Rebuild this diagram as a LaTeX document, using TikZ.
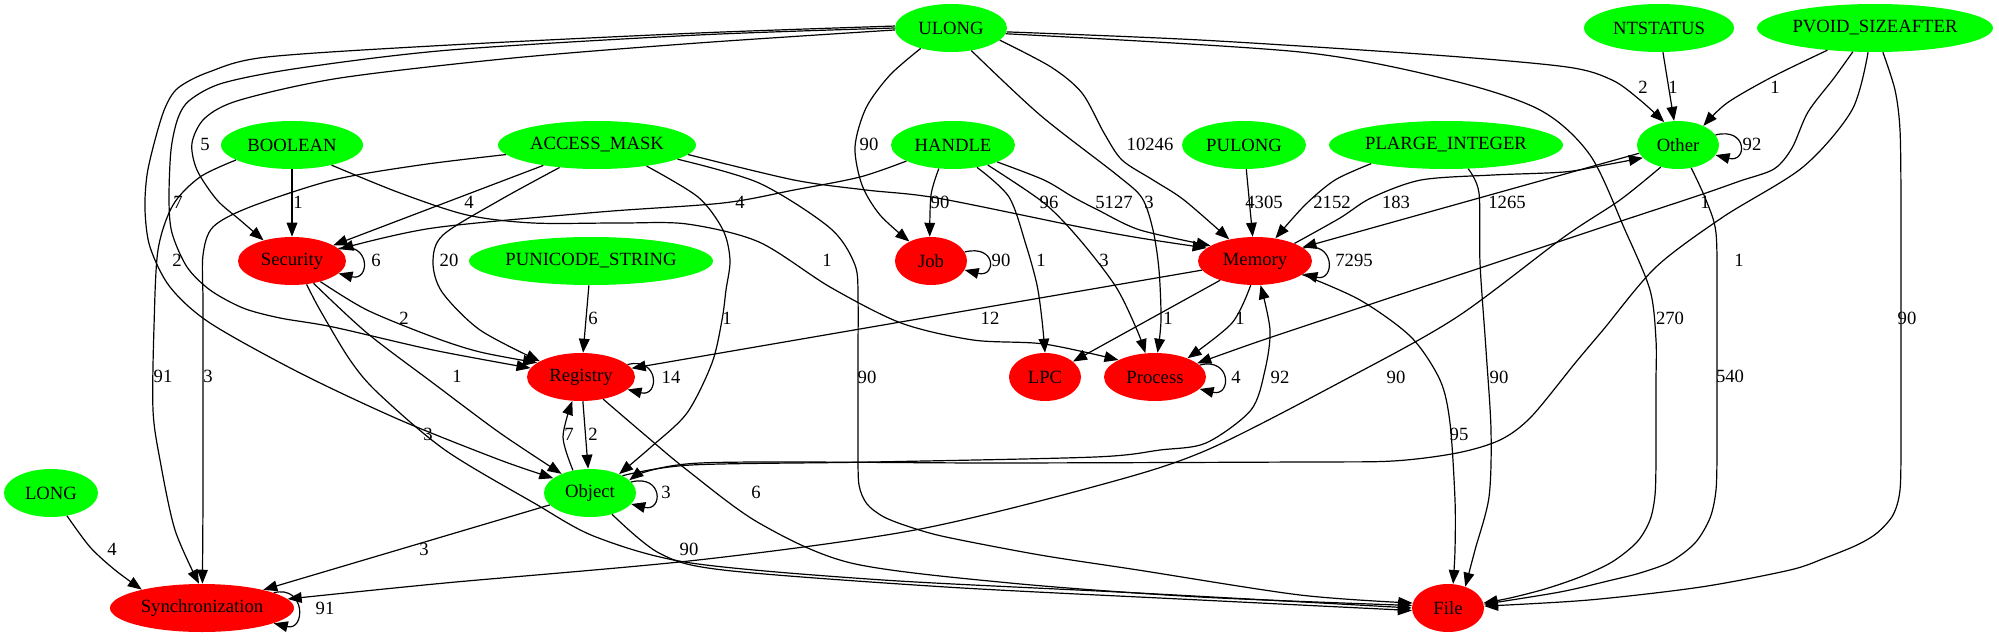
\documentclass[tikz,border=0pt]{standalone}
\usepackage{fontspec}
\setmainfont{Liberation Serif}
\usetikzlibrary{arrows.meta,shapes.geometric}
\definecolor{vgreen}{RGB}{0,255,0}
\definecolor{vred}{RGB}{255,0,0}
\begin{document}
\begin{tikzpicture}[x=0.75pt,y=-0.75pt,
  gnode/.style={ellipse, fill=vgreen, draw=none, inner xsep=-3pt, inner ysep=0pt, minimum height=36pt, font=\fontsize{14}{16}\selectfont},
  rnode/.style={gnode, fill=vred},
  conn/.style={draw=black, line width=0.9pt, -{Triangle[length=10.5pt,width=8pt]}},
  elab/.style={font=\fontsize{14}{16}\selectfont, inner sep=0pt},
  crv/.style={smooth, tension=0.5}]
\useasboundingbox (0,0) rectangle (1999,639);
% nodes
\node[gnode, minimum width=84pt] (ULONG) at (951,28) {ULONG};
\node[gnode, minimum width=112.5pt] (NTSTATUS) at (1659,28) {NTSTATUS};
\node[gnode, minimum width=177pt] (PVOID) at (1875,28) {PVOID\_SIZEAFTER};
\node[gnode, minimum width=106.5pt] (BOOLEAN) at (292,145) {BOOLEAN};
\node[gnode, minimum width=148.5pt] (ACCESS) at (597,145) {ACCESS\_MASK};
\node[gnode, minimum width=93pt] (HANDLE) at (953,145) {HANDLE};
\node[gnode, minimum width=93pt] (PULONG) at (1244,145) {PULONG};
\node[gnode, minimum width=175.5pt] (PLARGE) at (1446,145) {PLARGE\_INTEGER};
\node[gnode, minimum width=61.5pt] (Other) at (1678,145) {Other};
\node[rnode, minimum width=81pt] (Security) at (292,261) {Security};
\node[gnode, minimum width=183pt] (PUNICODE) at (591,261) {PUNICODE\_STRING};
\node[rnode, minimum width=54pt] (Job) at (931,261) {Job};
\node[rnode, minimum width=85.5pt] (Memory) at (1255,261) {Memory};
\node[rnode, minimum width=81pt] (Registry) at (581,377) {Registry};
\node[rnode, minimum width=54pt] (LPC) at (1045,377) {LPC};
\node[rnode, minimum width=76.5pt] (Process) at (1155,377) {Process};
\node[gnode, minimum width=70.5pt] (LONG) at (51,493) {LONG};
\node[gnode, minimum width=69pt] (Object) at (590,493) {Object};
\node[rnode, minimum width=138pt] (Sync) at (202,608) {Synchronization};
\node[rnode, minimum width=54pt] (File) at (1448,608) {File};
% ULONG edges
\draw[conn] plot[crv] coordinates {(ULONG.182) (698,43) (513,58) (340,78) (240,100) (205,118) (192,143) (197,170) (217,200) (240,220) (Security.144)};
\draw[conn] plot[crv] coordinates {(ULONG.180) (698,35) (450,50) (300,68) (223,83) (190,100) (178,118) (171,150) (169,200) (172,233) (187,267) (210,290) (243,308) (280,318) (333,327) (433,350) (Registry.170)};
\draw[conn] plot[crv] coordinates {(ULONG.178) (698,33) (450,45) (267,57) (209,72) (178,88) (165,108) (155,140) (147,175) (145,210) (150,247) (170,287) (210,323) (300,373) (400,420) (500,460) (Object.158)};
\draw[conn] plot[crv] coordinates {(ULONG.214) (890,75) (866,108) (855,147) (862,185) (880,215) (Job.138)};
\draw[conn] plot[crv] coordinates {(ULONG.-48) (1040,115) (1117,175) (1142,198) (1153,230) (1159,270) (1161,320) (Process.84)};
\draw[conn] plot[crv] coordinates {(ULONG.-14) (1051,67) (1082,93) (1104,133) (1122,160) (1153,180) (1184,200) (Memory.140)};
\draw[conn] plot[crv] coordinates {(ULONG.-4) (1200,40) (1434,55) (1567,67) (1612,80) (1640,100) (Other.121)};
\draw[conn] plot[crv] coordinates {(ULONG.-6) (1300,52) (1450,80) (1540,110) (1590,155) (1625,230) (1650,290) (1656,340) (1656,380) (1656,420) (1656,460) (1655,495) (1650,520) (1637,542) (1612,562) (1580,577) (1545,589) (1510,598) (File.8)};
% NTSTATUS, PVOID
\draw[conn] (NTSTATUS) -- (Other);
\draw[conn] plot[crv] coordinates {(PVOID.205) (1772,77) (1727,103) (Other.37)};
\draw[conn] plot[crv] coordinates {(PVOID.227) (1834,78) (1808,112) (1792,148) (1774,169) (1740,181) (1700,195) (1600,228) (1489,265) (1350,311) (1260,341) (Process.18)};
\draw[conn] plot[crv] coordinates {(PVOID.254) (1852,110) (1803,167) (1723,217) (1656,267) (1603,330) (1576,362) (1531,417) (1500,440) (1457,453) (1393,461) (1300,462) (1000,463) (700,463) (Object.18)};
\draw[conn] plot[crv] coordinates {(PVOID.-72) (1895,90) (1900,130) (1901,200) (1901,260) (1901,320) (1901,380) (1901,440) (1900,490) (1893,515) (1877,533) (1857,545) (1825,558) (1790,570) (1701,587) (1589,600) (File.3)};
% BOOLEAN
\draw[conn] (BOOLEAN) -- (Security);
\draw[conn] plot[crv] coordinates {(BOOLEAN.195) (200,177) (173,205) (158,250) (154,327) (153,410) (160,460) (175,530) (Sync.97)};
\draw[conn] plot[crv] coordinates {(BOOLEAN.-27) (400,193) (467,215) (533,223) (620,223) (687,224) (759,242) (830,287) (901,323) (973,340) (1044,344) (Process.155)};
% ACCESS_MASK
\draw[conn] (ACCESS) -- (Security);
\draw[conn] plot[crv] coordinates {(ACCESS.186) (420,165) (333,180) (250,207) (213,227) (203,255) (203,300) (203,350) (203,400) (203,450) (203,500) (Sync.89)};
\draw[conn] plot[crv] coordinates {(ACCESS.211) (500,200) (443,235) (433,262) (442,292) (480,330) (Registry.159)};
\draw[conn] plot[crv] coordinates {(ACCESS.-23) (698,197) (723,230) (730,260) (726,290) (722,320) (712,363) (687,413) (651,447) (Object.33)};
\draw[conn] plot[crv] coordinates {(ACCESS.-10) (759,183) (830,228) (855,265) (858,300) (858,350) (858,400) (858,450) (859,485) (867,504) (884,517) (910,527) (946,537) (1040,555) (1138,570) (1300,595) (File.172)};
\draw[conn] plot[crv] coordinates {(ACCESS.-6) (794,180) (866,190) (937,198) (1080,227) (1140,238) (Memory.165)};
% HANDLE
\draw[conn] plot[crv] coordinates {(HANDLE.199) (860,177) (794,190) (723,203) (600,212) (433,228) (Security.14)};
\draw[conn] plot[crv] coordinates {(HANDLE.-121) (931,195) (Job.93)};
\draw[conn] plot[crv] coordinates {(HANDLE.-43) (1009,197) (1026,245) (1037,285) (1042,320) (LPC.90)};
\draw[conn] plot[crv] coordinates {(HANDLE.-30) (1044,203) (1080,240) (1116,287) (1137,330) (Process.112)};
\draw[conn] plot[crv] coordinates {(HANDLE.-21) (1044,180) (1073,197) (1098,210) (1140,230) (Memory.161)};
% PULONG, PLARGE
\draw[conn] (PULONG) -- (Memory);
\draw[conn] plot[crv] coordinates {(PLARGE.194) (1335,180) (1305,205) (Memory.48)};
\draw[conn] plot[crv] coordinates {(PLARGE.-47) (1479,193) (1480,263) (1486,350) (1491,430) (1489,497) (1475,550) (File.51)};
% Other
\draw[conn] (Other.15) .. controls +(32,-8) and +(32,8) .. (Other.-15);
\draw[conn] (Other.192) -- (Memory.16);
\draw[conn] plot[crv] coordinates {(Memory.24) (1340,218) (1371,198) (1421,180) (1493,175) (1564,172) (1605,165) (Other.200)};
\draw[conn] plot[crv] coordinates {(Other.232) (1620,200) (1564,237) (1457,317) (1350,377) (1207,450) (1100,485) (915,530) (698,560) (445,583) (Sync.6)};
\draw[conn] plot[crv] coordinates {(Other.-60) (1706,200) (1716,233) (1717,300) (1717,350) (1717,400) (1717,450) (1716,490) (1710,518) (1695,543) (1670,562) (1640,573) (1612,580) (1560,592) (File.6)};
% Memory
\draw[conn] (Memory.15) .. controls +(32,-8) and +(32,8) .. (Memory.-15);
\draw[conn] (Memory) -- (Registry);
\draw[conn] (Memory) -- (LPC);
\draw[conn] plot[crv] coordinates {(Memory.-100) (1232,323) (Process.30)};
\draw[conn] plot[crv] coordinates {(Memory.-16) (1360,300) (1411,337) (1440,380) (1450,423) (1455,500) (1455,550) (File.78)};
% Security
\draw[conn] (Security.15) .. controls +(32,-8) and +(32,8) .. (Security.-15);
\draw[conn] plot[crv] coordinates {(Security.-36) (367,310) (433,337) (480,352) (Registry.162)};
\draw[conn] plot[crv] coordinates {(Security.-46) (367,333) (433,383) (500,433) (Object.146)};
\draw[conn] plot[crv] coordinates {(Security.-58) (320,310) (350,360) (378,393) (445,450) (534,503) (596,537) (691,563) (883,580) (1138,593) (File.180)};
% PUNICODE, Job
\draw[conn] (PUNICODE) -- (Registry);
\draw[conn] (Job.15) .. controls +(32,-8) and +(32,8) .. (Job.-15);
% Registry
\draw[conn] (Registry.15) .. controls +(32,-8) and +(32,8) .. (Registry.-15);
\draw[conn] (Registry) -- (Object);
\draw[conn] plot[crv] coordinates {(Registry.-45) (645,435) (687,470) (759,523) (851,563) (1010,583) (1200,597) (File.176)};
% Process
\draw[conn] (Process.15) .. controls +(32,-8) and +(32,8) .. (Process.-15);
% Object
\draw[conn] (Object.15) .. controls +(32,-8) and +(32,8) .. (Object.-15);
\draw[conn] plot[crv] coordinates {(Object.127) (563,437) (Registry.-110)};
\draw[conn] (Object) -- (Sync);
\draw[conn] plot[crv] coordinates {(Object.-44) (659,553) (723,570) (946,587) (1200,600) (File.184)};
\draw[conn] plot[crv] coordinates {(Object.28) (691,465) (873,462) (1095,457) (1160,450) (1206,443) (1251,410) (1265,370) (1270,330) (Memory.-77)};
% LONG, Sync
\draw[conn] plot[crv] coordinates {(LONG.-55) (90,547) (115,570) (Sync.163)};
\draw[conn] (Sync.12) .. controls +(32,-8) and +(32,8) .. (Sync.-12);
% labels
\node[elab] (lab1) at (1643,87) {2};
\node[elab] (lab2) at (1673,87) {1};
\node[elab] (lab3) at (1775,87) {1};
\node[elab] (lab4) at (205,144) {5};
\node[elab] (lab5) at (869,144) {90};
\node[elab] (lab6) at (1150,144) {10246};
\node[elab] (lab7) at (1752,144) {92};
\node[elab] (lab8) at (178,202) {7};
\node[elab] (lab9) at (298,202) {1};
\node[elab] (lab10) at (469,202) {4};
\node[elab] (lab11) at (740,202) {4};
\node[elab] (lab12) at (940,202) {90};
\node[elab] (lab13) at (1049,202) {96};
\node[elab] (lab14) at (1114,202) {5127};
\node[elab] (lab15) at (1149,202) {3};
\node[elab] (lab16) at (1264,202) {4305};
\node[elab] (lab17) at (1332,202) {2152};
\node[elab] (lab18) at (1396,202) {183};
\node[elab] (lab19) at (1507,202) {1265};
\node[elab] (lab20) at (1705,202) {1};
\node[elab] (lab21) at (177,260) {2};
\node[elab] (lab22) at (376,260) {6};
\node[elab] (lab23) at (449,260) {20};
\node[elab] (lab24) at (827,260) {1};
\node[elab] (lab25) at (1001,260) {90};
\node[elab] (lab26) at (1041,260) {1};
\node[elab] (lab27) at (1104,260) {3};
\node[elab] (lab28) at (1354,260) {7295};
\node[elab] (lab29) at (1739,260) {1};
\node[elab] (lab30) at (404,318) {2};
\node[elab] (lab31) at (593,318) {6};
\node[elab] (lab32) at (727,318) {1};
\node[elab] (lab33) at (990,318) {12};
\node[elab] (lab34) at (1168,318) {1};
\node[elab] (lab35) at (1240,318) {1};
\node[elab] (lab36) at (1670,318) {270};
\node[elab] (lab37) at (1907,318) {90};
\node[elab] (lab38) at (163,376) {91};
\node[elab] (lab39) at (208,376) {3};
\node[elab] (lab40) at (457,376) {1};
\node[elab] (lab41) at (671,377) {14};
\node[elab] (lab42) at (867,377) {90};
\node[elab] (lab43) at (1236,377) {4};
\node[elab] (lab44) at (1280,377) {92};
\node[elab] (lab45) at (1396,377) {90};
\node[elab] (lab46) at (1499,377) {90};
\node[elab] (lab47) at (1730,376) {540};
\node[elab] (lab48) at (428,434) {3};
\node[elab] (lab49) at (569,434) {7};
\node[elab] (lab50) at (593,434) {2};
\node[elab] (lab51) at (1459,434) {95};
\node[elab] (lab52) at (666,492) {3};
\node[elab] (lab53) at (756,492) {6};
\node[elab] (lab54) at (112,549) {4};
\node[elab] (lab55) at (424,549) {3};
\node[elab] (lab56) at (689,549) {90};
\node[elab] (lab57) at (325,608) {91};
\end{tikzpicture}
\end{document}
